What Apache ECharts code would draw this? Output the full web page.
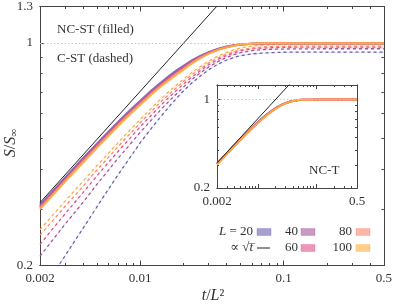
<!DOCTYPE html>
<html><head><meta charset="utf-8">
<script src="https://cdn.jsdelivr.net/npm/echarts@6/dist/echarts.min.js"></script>
<style>html,body{margin:0;padding:0;background:#fff}#c{width:395px;height:308px}</style>
</head><body><div id="c"></div>
<script>
// ---------- data ----------
const tValues = [0.002,0.003,0.004,0.005,0.006,0.007,0.008,0.009,0.01,0.012,0.014,0.016,0.018,0.02,
                 0.023,0.026,0.03,0.035,0.04,0.045,0.05,0.06,0.07,0.085,0.1,0.13,0.2,0.3,0.5];
// NC-ST (filled)
const ncst20  = [0.310,0.378,0.435,0.483,0.526,0.564,0.599,0.630,0.658,0.710,0.752,0.789,0.821,0.847,
                 0.882,0.908,0.935,0.959,0.974,0.983,0.988,0.993,0.995,0.995,0.995,0.995,0.995,0.995,0.995];
const ncst40  = [0.307,0.375,0.431,0.479,0.521,0.560,0.594,0.625,0.653,0.704,0.746,0.783,0.814,0.841,
                 0.877,0.904,0.932,0.956,0.971,0.982,0.988,0.993,0.995,0.996,0.996,0.996,0.996,0.996,0.996];
const ncst60  = [0.305,0.372,0.428,0.476,0.518,0.556,0.590,0.620,0.648,0.699,0.741,0.777,0.808,0.835,
                 0.872,0.900,0.929,0.954,0.970,0.981,0.988,0.993,0.995,0.996,0.996,0.996,0.996,0.996,0.996];
const ncst80  = [0.303,0.370,0.425,0.472,0.514,0.552,0.586,0.616,0.644,0.694,0.736,0.771,0.802,0.829,
                 0.868,0.897,0.926,0.952,0.969,0.980,0.988,0.993,0.996,0.997,0.997,0.997,0.997,0.997,0.997];
const ncst100 = [0.300,0.367,0.421,0.468,0.510,0.547,0.581,0.611,0.638,0.688,0.730,0.765,0.796,0.822,
                 0.862,0.892,0.923,0.951,0.967,0.979,0.988,0.994,0.997,0.997,0.997,0.997,0.997,0.997,0.997];
// C-ST (dashed)
const cst20  = [0.163,0.215,0.262,0.306,0.347,0.385,0.420,0.453,0.486,0.540,0.589,0.633,0.671,0.706,
                0.749,0.784,0.823,0.858,0.883,0.899,0.911,0.923,0.928,0.932,0.934,0.935,0.935,0.935,0.935];
const cst40  = [0.214,0.270,0.316,0.360,0.398,0.434,0.465,0.495,0.524,0.573,0.619,0.658,0.693,0.726,
                0.768,0.802,0.840,0.874,0.900,0.918,0.931,0.945,0.951,0.955,0.956,0.957,0.958,0.958,0.958];
const cst60  = [0.233,0.291,0.339,0.383,0.421,0.456,0.487,0.517,0.545,0.594,0.639,0.677,0.711,0.742,
                0.782,0.815,0.853,0.887,0.912,0.929,0.943,0.956,0.962,0.966,0.968,0.969,0.969,0.969,0.969];
const cst80  = [0.249,0.307,0.355,0.399,0.437,0.472,0.504,0.533,0.561,0.610,0.654,0.692,0.725,0.756,
                0.795,0.827,0.864,0.897,0.921,0.938,0.950,0.964,0.970,0.974,0.975,0.976,0.976,0.976,0.976];
const cst100 = [0.259,0.319,0.368,0.412,0.450,0.486,0.518,0.547,0.575,0.624,0.668,0.706,0.739,0.769,
                0.808,0.840,0.876,0.909,0.933,0.950,0.963,0.977,0.983,0.987,0.988,0.988,0.988,0.988,0.988];
// NC-T (inset)
const nct20  = [0.311,0.380,0.437,0.486,0.528,0.567,0.602,0.633,0.662,0.713,0.756,0.793,0.825,0.852,
                0.886,0.911,0.937,0.960,0.974,0.983,0.988,0.993,0.995,0.996,0.997,0.997,0.997,0.997,0.997];
const nct40  = [0.310,0.378,0.435,0.483,0.526,0.564,0.599,0.630,0.659,0.710,0.753,0.790,0.822,0.849,
                0.884,0.910,0.936,0.959,0.974,0.983,0.988,0.993,0.995,0.996,0.997,0.997,0.997,0.997,0.997];
const nct60  = [0.308,0.376,0.433,0.481,0.523,0.562,0.596,0.627,0.656,0.707,0.750,0.787,0.819,0.846,
                0.881,0.908,0.934,0.958,0.973,0.983,0.988,0.993,0.995,0.996,0.997,0.997,0.997,0.997,0.997];
const nct80  = [0.307,0.374,0.430,0.478,0.520,0.559,0.593,0.624,0.653,0.704,0.747,0.784,0.816,0.843,
                0.879,0.906,0.933,0.957,0.972,0.982,0.988,0.993,0.995,0.996,0.997,0.997,0.997,0.997,0.997];
const nct100 = [0.305,0.372,0.428,0.476,0.518,0.556,0.590,0.621,0.650,0.701,0.744,0.781,0.813,0.840,
                0.876,0.904,0.931,0.956,0.971,0.982,0.988,0.993,0.995,0.996,0.997,0.997,0.997,0.997,0.997];
// sqrt(t) reference line
const sqrtT = [0.002, 0.5];
const sqrtS = [0.315, 4.98];
const sizes = ['20','40','60','80','100'];
// ticks
const xLabelsMain = [0.002, 0.01, 0.1, 0.5];
const xMajor = [0.01, 0.1];
const xMinor = [0.003,0.004,0.005,0.006,0.007,0.008,0.009,0.02,0.03,0.04,0.05,0.06,0.07,0.08,0.09,0.2,0.3,0.4];
const yLabelsMain = [0.2, 1, 1.3];
const yMajor = [1];
const yMinor = [0.3,0.4,0.5,0.6,0.7,0.8,0.9];
const xLabelsInset = [0.002, 0.5];
const yLabelsInset = [0.2, 1];

// ---------- styling ----------
const FONT = '"Liberation Serif","DejaVu Serif",serif';
const colors = ['#6a5fb0','#a8559f','#e0508a','#f7876f','#fbad3c'];
const AX = '#444';

function ax(grid, pos, min, max, ticks, len, labelVals, fs){
  return {
    type:'log', logBase:10, gridIndex:grid, position:pos, min:min, max:max,
    axisLine:{show:true,onZero:false,lineStyle:{color:AX,width:1}},
    axisTick:{show:true,inside:true,length:len,customValues:ticks,lineStyle:{color:AX,width:1}},
    axisLabel:{show:!!labelVals,customValues:labelVals||undefined,margin:7,color:'#333',
      fontFamily:FONT,fontSize:fs,formatter:v=>String(+(+v).toPrecision(3))},
    splitLine:{show:false},minorTick:{show:false},minorSplitLine:{show:false}
  };
}
const xAxes = [
  ax(0,'bottom',0.002,0.5,xMajor,5,xLabelsMain,13),
  ax(0,'bottom',0.002,0.5,xMinor,2.5,null,13),
  ax(0,'top',0.002,0.5,xMajor,5,null,13),
  ax(0,'top',0.002,0.5,xMinor,2.5,null,13),
  ax(1,'bottom',0.002,0.5,xMajor,4,xLabelsInset,13),
  ax(1,'bottom',0.002,0.5,xMinor,2,null,13),
  ax(1,'top',0.002,0.5,xMajor,4,null,13),
  ax(1,'top',0.002,0.5,xMinor,2,null,13)
];
const yAxes = [
  ax(0,'left',0.2,1.3,yMajor,5,yLabelsMain,13),
  ax(0,'left',0.2,1.3,yMinor,2.5,null,13),
  ax(0,'right',0.2,1.3,yMajor,5,null,13),
  ax(0,'right',0.2,1.3,yMinor,2.5,null,13),
  ax(1,'left',0.2,1.3,yMajor,4,yLabelsInset,13),
  ax(1,'left',0.2,1.3,yMinor,2,null,13),
  ax(1,'right',0.2,1.3,yMajor,4,null,13),
  ax(1,'right',0.2,1.3,yMinor,2,null,13)
];

function pairs(xs, ys){ return xs.map((x,i)=>[x, ys[i]]); }
const series = [];
const unitLine = {silent:true,symbol:'none',label:{show:false},animation:false,
  lineStyle:{type:[1.5,2],color:'#c8c8c8',width:1},data:[{yAxis:1}]};

const cst = [cst20,cst40,cst60,cst80,cst100];
cst.forEach((arr,i)=>{
  series.push({type:'line',xAxisIndex:0,yAxisIndex:0,data:pairs(tValues,arr),symbol:'none',silent:true,
    lineStyle:{color:colors[i],width:0.6,opacity:0.35},
    markLine: i===0 ? unitLine : undefined});
  series.push({type:'line',xAxisIndex:0,yAxisIndex:0,data:pairs(tValues,arr),symbol:'none',silent:true,
    lineStyle:{color:colors[i],width:1.3,type:[3,3]}});
});
[ncst20,ncst40,ncst60,ncst80,ncst100].forEach((arr,i)=>{
  series.push({type:'line',xAxisIndex:0,yAxisIndex:0,data:pairs(tValues,arr),symbol:'none',silent:true,
    lineStyle:{color:colors[i],width:2,opacity:0.85}});
});
series.push({type:'line',xAxisIndex:0,yAxisIndex:0,data:pairs(sqrtT,sqrtS),symbol:'none',silent:true,
  lineStyle:{color:'#222',width:1}});
[nct20,nct40,nct60,nct80,nct100].forEach((arr,i)=>{
  series.push({type:'line',xAxisIndex:4,yAxisIndex:4,data:pairs(tValues,arr),symbol:'none',silent:true,
    lineStyle:{color:colors[i],width:2,opacity:0.85},
    markLine: i===0 ? unitLine : undefined});
});
series.push({type:'line',xAxisIndex:4,yAxisIndex:4,data:pairs(sqrtT,sqrtS),symbol:'none',silent:true,
  lineStyle:{color:'#222',width:1}});

// ---------- annotations / legend ----------
function txt(x,y,text,align,size,extra){
  size = size||13;
  return Object.assign({type:'text',x:x,y:y,silent:true,
    style:{text:text,fill:'#333',fontSize:size,fontFamily:FONT,textAlign:align||'left',textVerticalAlign:'middle',
      rich:{i:{fontStyle:'italic',fontSize:size,fontFamily:FONT,fill:'#333'},
            n:{fontSize:size,fontFamily:FONT,fill:'#333'},
            s:{fontSize:Math.round(size*0.7),fontFamily:FONT,fill:'#333',padding:[Math.round(size*0.35),0,0,0]}}}},extra||{});
}
const legendRows = [232, 248];
const legendItems = [
  {label:'{i|L}{n| = '+sizes[0]+'}', col:0,row:0}, {label:sizes[1],col:1,row:0}, {label:sizes[3],col:2,row:0},
  {label:sizes[2],col:1,row:1}, {label:sizes[4],col:2,row:1}
];
const colRight = [253, 298, 352];
const colSw = [257, 301, 356];
const swColorIdx = [0,1,3,2,4];
const graphics = [
  txt(57,30,'NC-ST (filled)'),
  txt(57,59,'C-ST (dashed)'),
  txt(309,171,'NC-T'),
  txt(213,296,'{i|t}{n|/}{i|L}{n|²}','center',16),
  txt(11,143,'{i|S}{n|/}{i|S}{s|∞}','center',16,{rotation:Math.PI/2})
];
legendItems.forEach((it,k)=>{
  const y = legendRows[it.row];
  graphics.push(txt(colRight[it.col],y,it.label,'right'));
  graphics.push({type:'rect',silent:true,shape:{x:colSw[it.col],y:y-3.5,width:14,height:7},
    style:{fill:colors[swColorIdx[k]],opacity:0.6,stroke:colors[swColorIdx[k]],lineWidth:0.5}});
});
graphics.push(txt(253,248,'{n|∝ √}{i|t\u0305}','right'));
graphics.push({type:'line',silent:true,shape:{x1:257,y1:248,x2:270,y2:248},style:{stroke:'#222',lineWidth:1}});

const chart = echarts.init(document.getElementById('c'),null,{renderer:'canvas'});
chart.setOption({
  animation:false,
  backgroundColor:'#fff',
  grid:[
    {left:40,top:6,width:345,height:259.5,containLabel:false},
    {left:217,top:85,width:140,height:103,containLabel:false,show:true,backgroundColor:'#fff',borderWidth:0}
  ],
  xAxis:xAxes, yAxis:yAxes, series:series, graphic:graphics
});
</script></body></html>
